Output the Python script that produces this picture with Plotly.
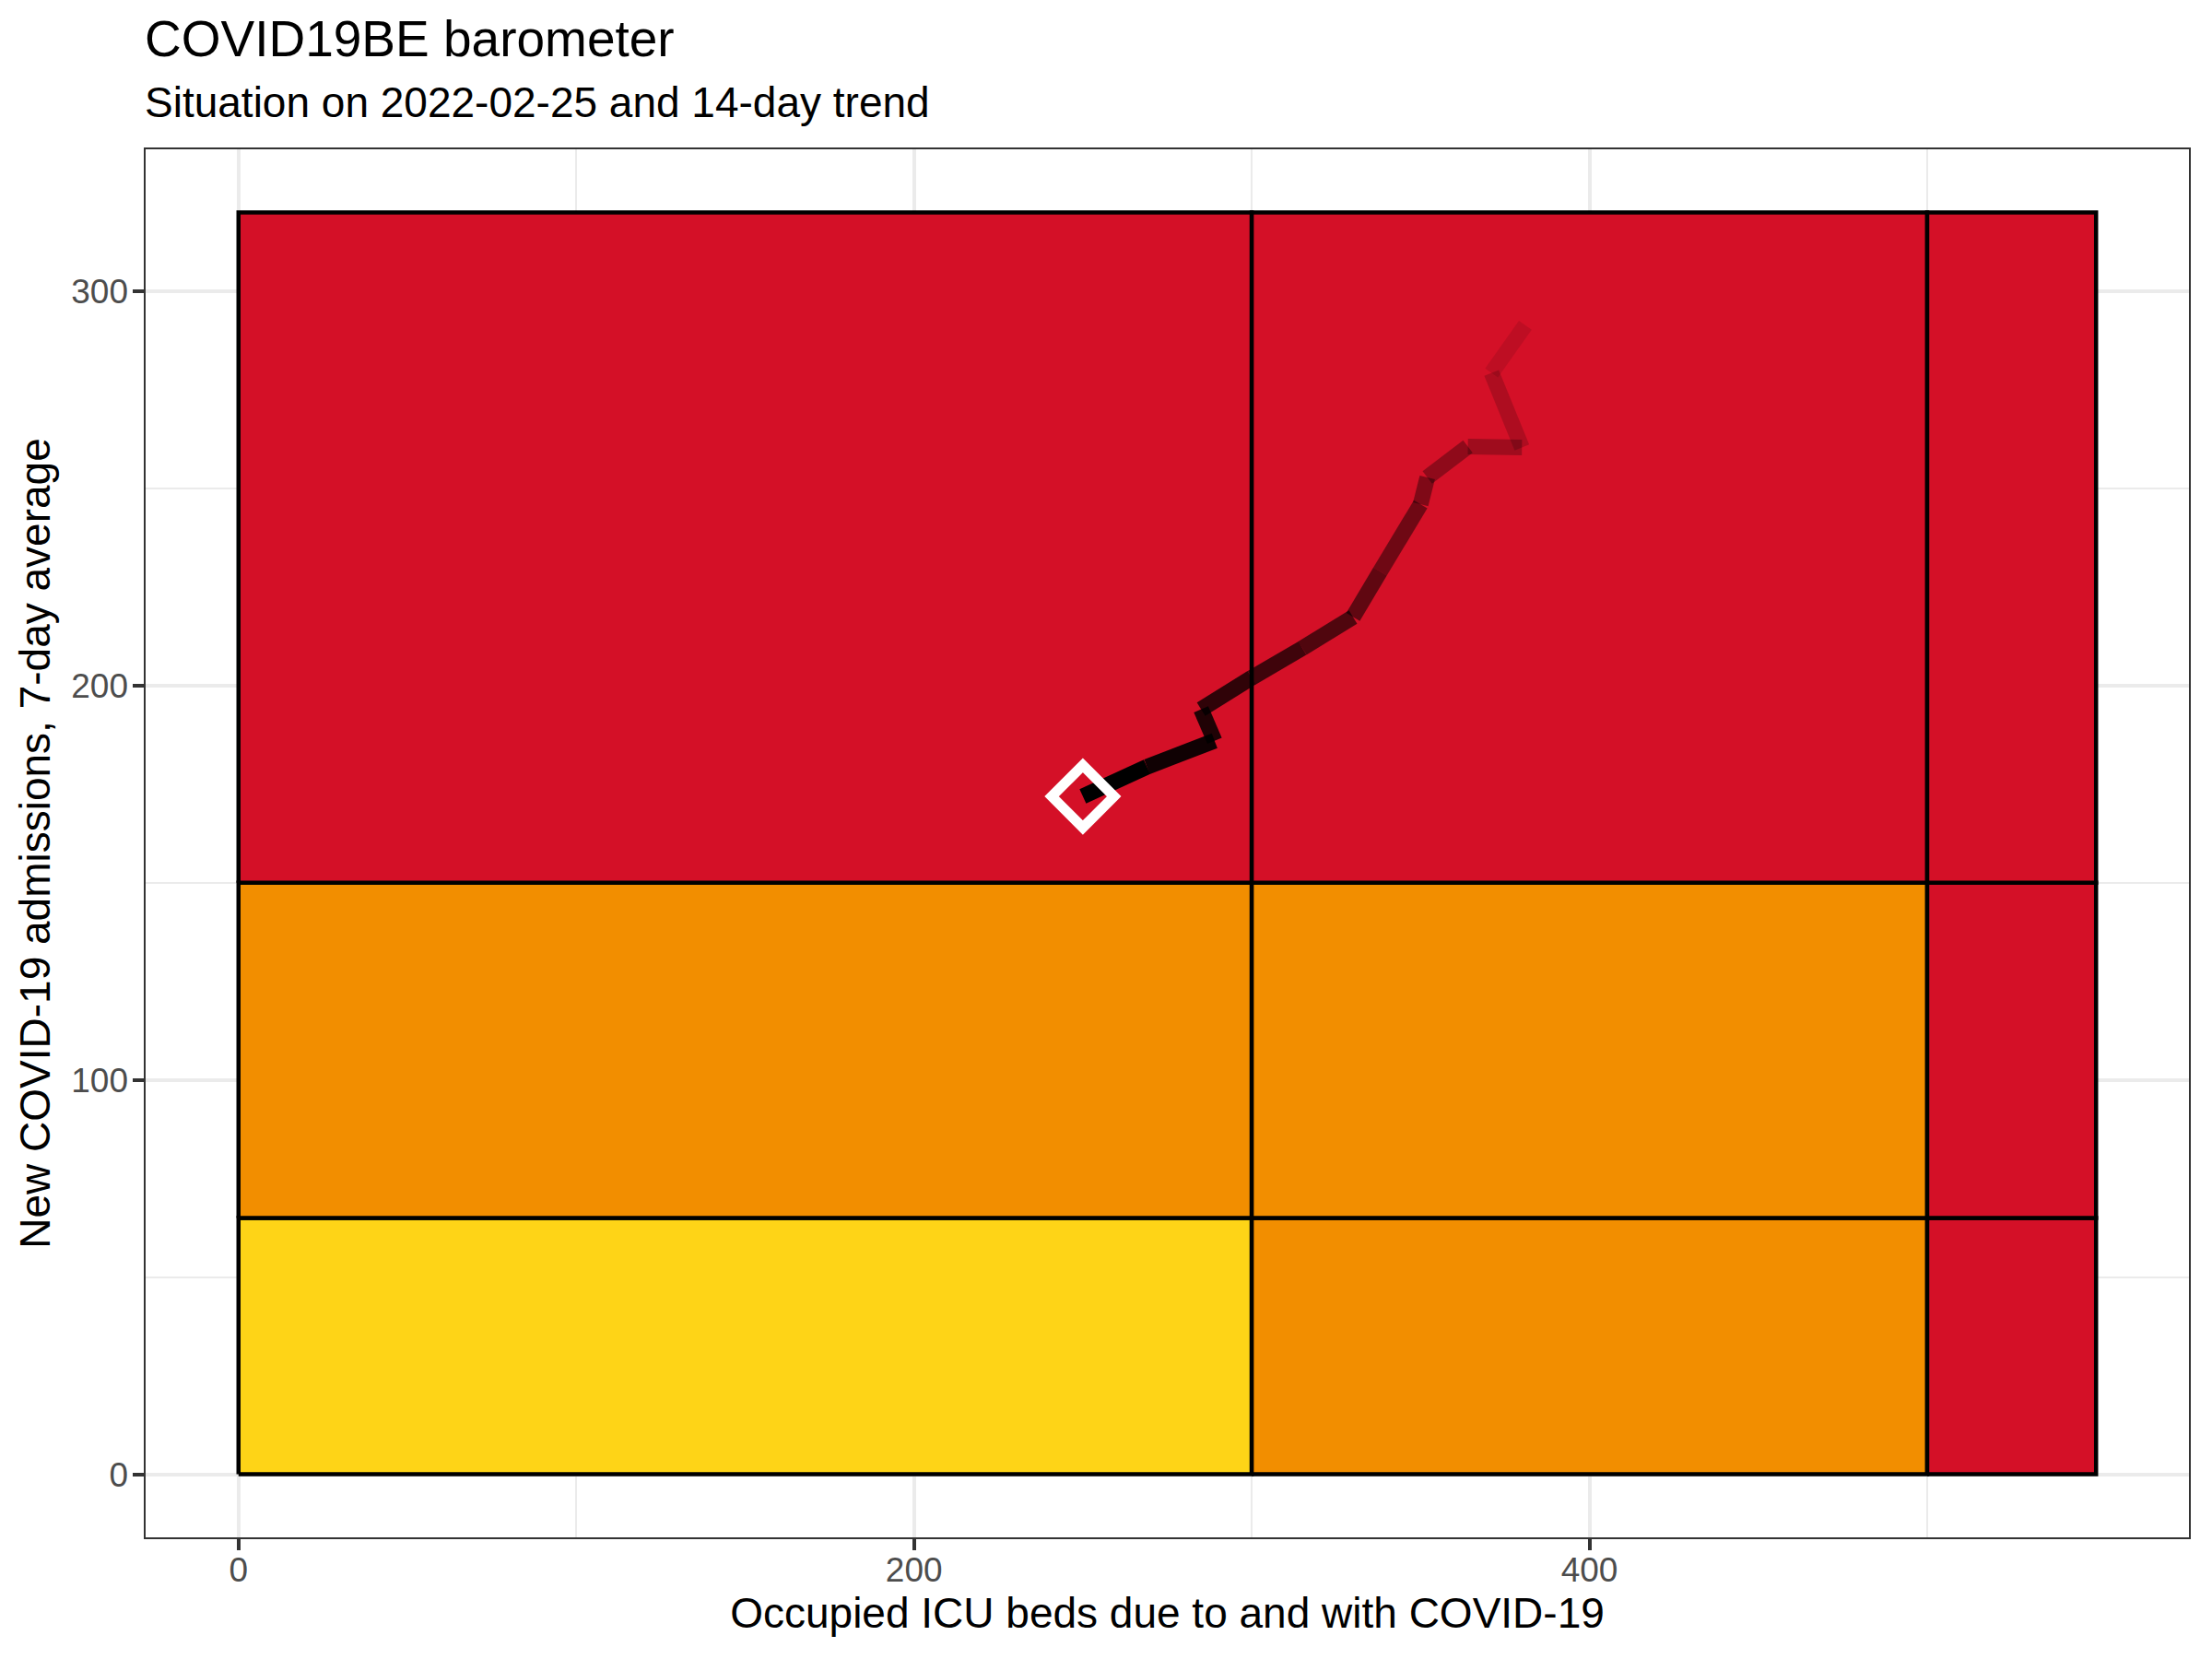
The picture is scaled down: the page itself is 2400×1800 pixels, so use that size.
import plotly.graph_objects as go

# barometer thresholds
icu_breaks = [0, 300, 500, 550]
adm_breaks = [0, 65, 150, 320]

YELLOW = "#fed417"
ORANGE = "#f28e00"
RED = "#d41027"

# cell colours, rows from bottom (admissions) and columns left to right (ICU)
cell_colours = [
    [YELLOW, ORANGE, RED],
    [ORANGE, ORANGE, RED],
    [RED, RED, RED],
]

# 14-day trend, oldest first, last point = 2022-02-25
trend_icu = [381, 371, 380, 364, 352, 350, 338, 330, 315, 300, 285, 289, 269, 250]
trend_adm = [291.4, 279.3, 260.4, 260.6, 252.8, 246.0, 228.9, 217.4, 209.5, 202.0, 194.0, 186.0, 179.4, 171.9]

FONT = "Liberation Sans"

fig = go.Figure()

# coloured zones
for r in range(len(adm_breaks) - 1):
    for c in range(len(icu_breaks) - 1):
        x0, x1 = icu_breaks[c], icu_breaks[c + 1]
        y0, y1 = adm_breaks[r], adm_breaks[r + 1]
        fig.add_trace(go.Scatter(
            x=[x0, x1, x1, x0, x0],
            y=[y0, y0, y1, y1, y0],
            mode="lines",
            fill="toself",
            fillcolor=cell_colours[r][c],
            line=dict(color="black", width=4.5),
            hoverinfo="skip",
            showlegend=False,
        ))

# trend path, fading in towards the latest day
n = len(trend_icu)
for i in range(n - 1):
    alpha = 0.1 + 0.9 * i / (n - 2)
    fig.add_trace(go.Scatter(
        x=trend_icu[i:i + 2],
        y=trend_adm[i:i + 2],
        mode="lines",
        line=dict(color=f"rgba(0,0,0,{alpha:.3f})", width=17),
        hoverinfo="skip",
        showlegend=False,
    ))

# current situation
fig.add_trace(go.Scatter(
    x=[trend_icu[-1]],
    y=[trend_adm[-1]],
    mode="markers",
    marker=dict(symbol="diamond-open", size=52, color="white",
                line=dict(color="white", width=11)),
    hoverinfo="skip",
    showlegend=False,
))

axis_common = dict(
    showgrid=True,
    gridcolor="#ebebeb",
    gridwidth=4.4,
    zeroline=False,
    showline=True,
    mirror=True,
    linecolor="#333333",
    linewidth=2.2,
    ticks="outside",
    ticklen=11.5,
    tickwidth=4.2,
    tickcolor="#333333",
    tickfont=dict(family=FONT, size=37, color="#4d4d4d"),
)

fig.update_xaxes(
    range=[-27.5, 577.5],
    tick0=0, dtick=200,
    ticklabelstandoff=-10,
    minor=dict(dtick=100, showgrid=True, gridcolor="#ebebeb", gridwidth=2.2, ticks=""),
    title=dict(text="Occupied ICU beds due to and with COVID-19",
               font=dict(family=FONT, size=46, color="black"), standoff=10),
    **axis_common,
)
fig.update_yaxes(
    range=[-16, 336],
    tick0=0, dtick=100,
    ticklabelstandoff=-2,
    minor=dict(dtick=50, showgrid=True, gridcolor="#ebebeb", gridwidth=2.2, ticks=""),
    title=dict(text="New COVID-19 admissions, 7-day average",
               font=dict(family=FONT, size=46, color="black"), standoff=8),
    **axis_common,
)

fig.add_annotation(
    text="COVID19BE barometer", xref="paper", yref="paper",
    x=0, y=1.0797, xanchor="left", yanchor="middle", xshift=-3, showarrow=False,
    font=dict(family=FONT, size=55, color="black"),
)
fig.add_annotation(
    text="Situation on 2022-02-25 and 14-day trend", xref="paper", yref="paper",
    x=0, y=1.0339, xanchor="left", yanchor="middle", xshift=-3, showarrow=False,
    font=dict(family=FONT, size=46, color="black"),
)

fig.update_layout(
    width=2400,
    height=1800,
    margin=dict(l=158, r=25, t=162, b=132),
    plot_bgcolor="white",
    paper_bgcolor="white",
    font=dict(family=FONT),
    showlegend=False,
)

# drop the default page margin so the figure fills the window exactly
fig.write_html(
    "out.html",
    config={"displayModeBar": False},
    post_script="document.body.style.margin='0';",
)
